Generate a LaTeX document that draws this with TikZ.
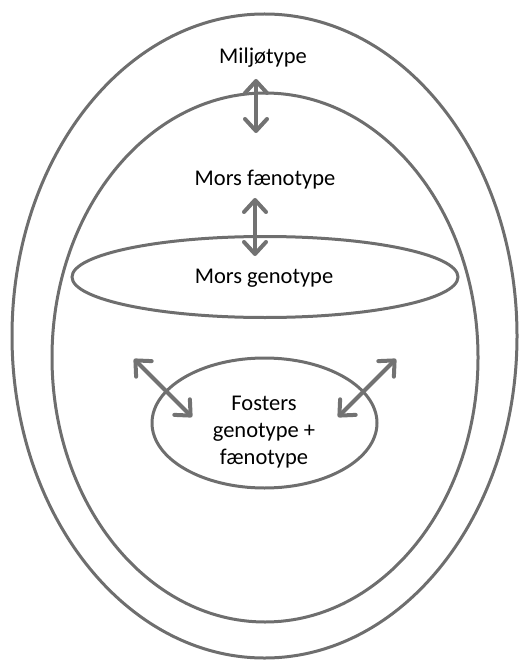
\documentclass[tikz,border=0pt]{standalone}
\usepackage{fontspec}
\setmainfont{Carlito}
\usetikzlibrary{shapes.geometric,arrows.meta}
\definecolor{lin}{HTML}{6E6E6E}
\definecolor{arr}{HTML}{727272}
\tikzset{
  ring/.style={draw=lin, line width=3pt, ellipse, inner sep=0pt},
  lbl/.style={font=\fontsize{22.5}{27}\selectfont, text=black, align=center},
  twoway/.style={draw=arr, line width=4pt, line cap=round,
     {Straight Barb[length=12pt,width=22pt,line width=4pt,round]}-{Straight Barb[length=12pt,width=22pt,line width=4pt,round]}}
}
\begin{document}
\begin{tikzpicture}[x=1pt,y=-1pt]
\useasboundingbox (0,0) rectangle (519,660);
\node[ring, minimum width=505pt, minimum height=644pt] (outer) at (264.5,336) {};
\node[ring, minimum width=426pt, minimum height=529pt] (inner) at (265,357.5) {};
\node[ring, minimum width=386pt, minimum height=81pt] (geno) at (265,277) {};
\node[ring, minimum width=225pt, minimum height=130pt] (foster) at (264.5,423) {};
\node[lbl] (miljo) at (263,58) {Miljøtype};
\node[lbl] (fanot) at (265,180) {Mors fænotype};
\node[lbl] (genot) at (264,278) {Mors genotype};
\node[lbl] (fost) at (264,432) {Fosters\\genotype +\\fænotype};
\coordinate (a1) at (256,79);
\coordinate (a2) at (256,133);
\coordinate (b1) at (255,198);
\coordinate (b2) at (255,256);
\coordinate (c1) at (134,359);
\coordinate (c2) at (192,417);
\coordinate (d1) at (396,359);
\coordinate (d2) at (338,417);
\draw[twoway] (a1) -- (a2);
\draw[twoway] (b1) -- (b2);
\draw[twoway] (c1) -- (c2);
\draw[twoway] (d1) -- (d2);
\end{tikzpicture}
\end{document}
